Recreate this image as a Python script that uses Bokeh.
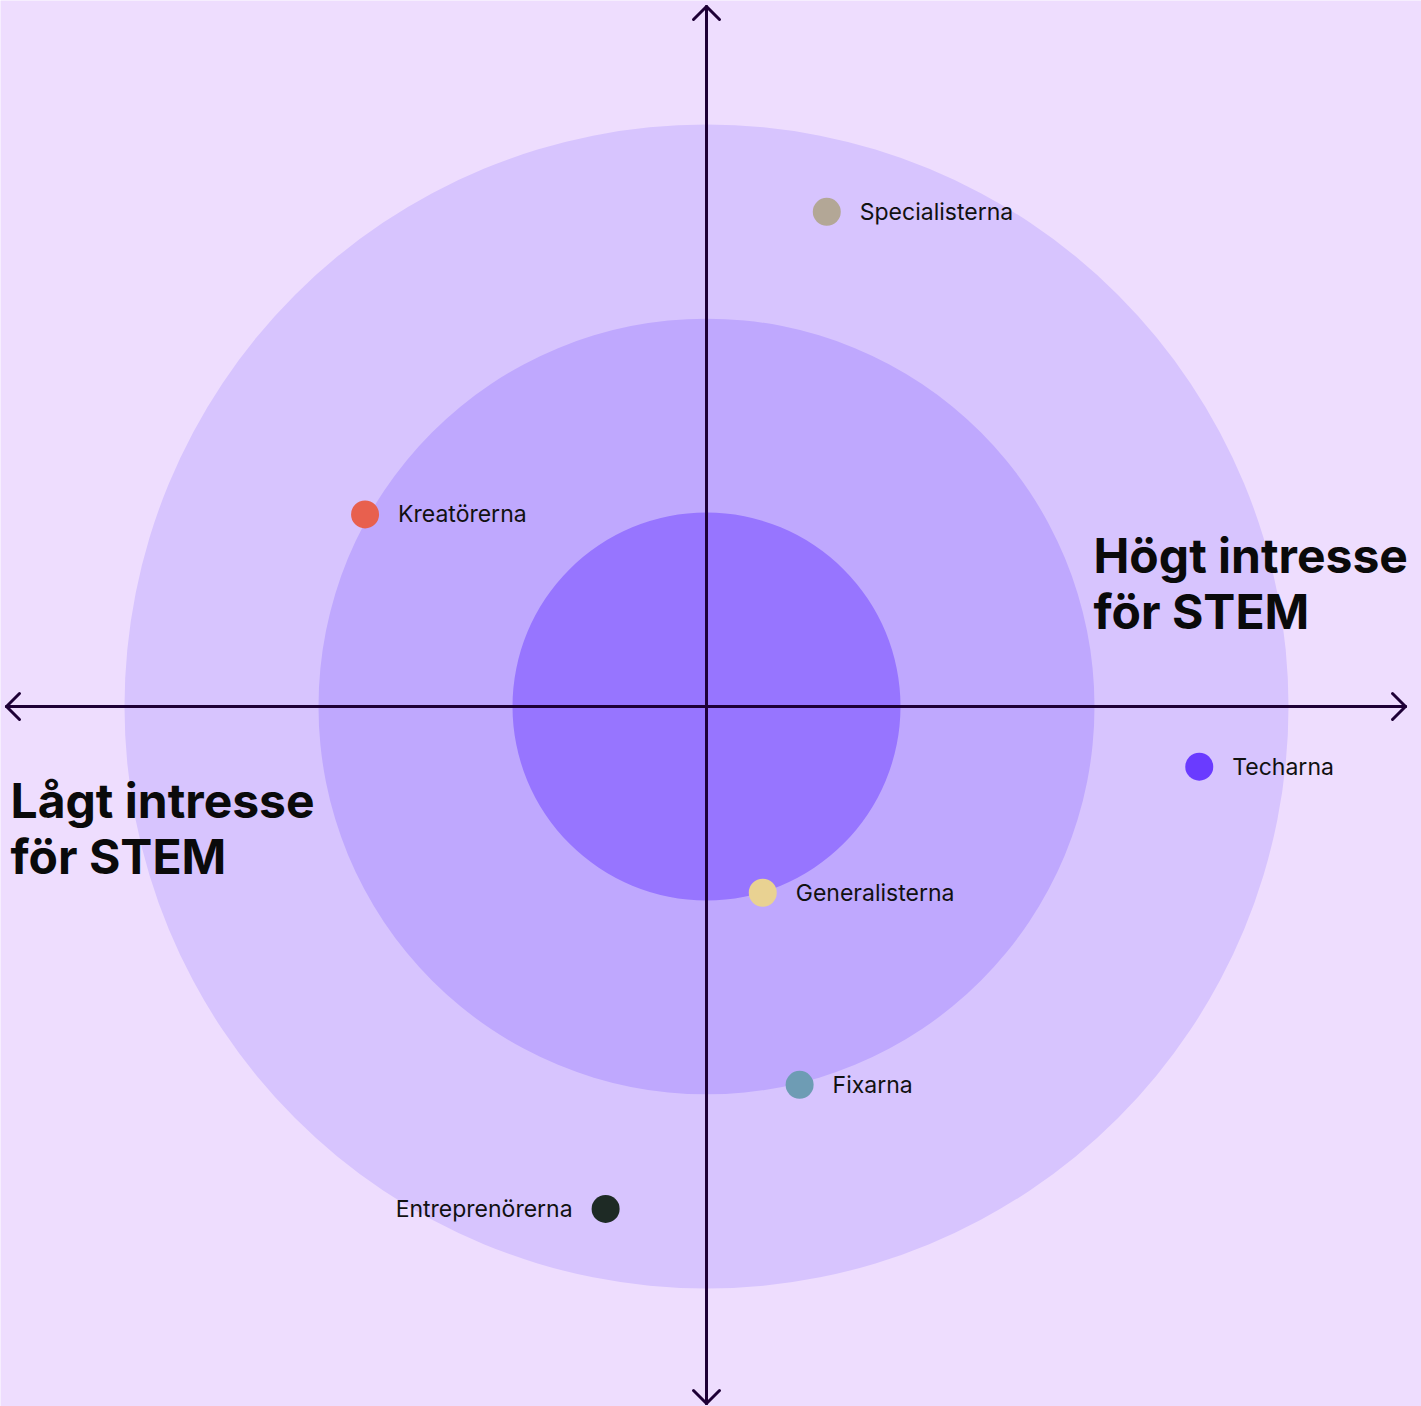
from bokeh.plotting import figure
from bokeh.models import ColumnDataSource
from bokeh.core.properties import value
from bokeh.embed import file_html
from bokeh.resources import INLINE

# ---- data ----
ring_radii = [3, 2, 1]
ring_colors = ["#D7C4FE", "#BFA8FE", "#9775FF"]

names = ["Specialisterna", "Kreatörerna", "Techarna", "Generalisterna", "Fixarna", "Entreprenörerna"]
x_vals = [0.62, -1.76, 2.54, 0.29, 0.48, -0.52]
y_vals = [2.55, 0.99, -0.31, -0.96, -1.95, -2.59]
dot_colors = ["#B3A796", "#E8604E", "#6A3BFF", "#E9D292", "#6E9CB4", "#1E2A25"]
label_side = ["right", "right", "right", "right", "right", "left"]

quad_labels = [("Högt intresse", "för STEM"), ("Lågt intresse", "för STEM")]

BG = "#EEDDFE"
AX = "#1E0036"
PX = 194.0  # pixels per unit

W, H = 1421, 1406
p = figure(width=W, height=H, output_backend="svg", toolbar_location=None,
           x_range=(-706 / PX, 715 / PX), y_range=(-700 / PX, 706 / PX),
           min_border=0, background_fill_color=BG, border_fill_color=BG)
p.axis.visible = False
p.grid.visible = False
p.outline_line_color = None

for r, c in zip(ring_radii, ring_colors):
    p.circle(x=[0], y=[0], radius=r, fill_color=c, line_color=None)

# axes with arrow heads
xl, xr = -700 / PX, 699 / PX
yb, yt = -697 / PX, 700 / PX
a = 13 / PX
sx0 = [xl, 0, xl, xl, xr, xr, 0, 0, 0, 0]
sy0 = [0, yb, 0, 0, 0, 0, yt, yt, yb, yb]
sx1 = [xr, 0, xl + a, xl + a, xr - a, xr - a, -a, a, -a, a]
sy1 = [0, yt, a, -a, a, -a, yt - a, yt - a, yb + a, yb + a]
p.segment(x0=sx0, y0=sy0, x1=sx1, y1=sy1, line_color=AX, line_width=3, line_cap="round")

src = ColumnDataSource(dict(x=x_vals, y=y_vals, c=dot_colors, n=names))
p.scatter("x", "y", source=src, size=28, fill_color="c", line_color=None)

off = 33 / PX
rx = [x + off for x, s in zip(x_vals, label_side) if s == "right"]
ry = [y for y, s in zip(y_vals, label_side) if s == "right"]
rn = [n for n, s in zip(names, label_side) if s == "right"]
lx = [x - off for x, s in zip(x_vals, label_side) if s == "left"]
ly = [y for y, s in zip(y_vals, label_side) if s == "left"]
ln = [n for n, s in zip(names, label_side) if s == "left"]
common = dict(text_font=value("Inter"), text_font_size="23px", text_color="#111111",
              text_baseline="middle")
p.text(x=rx, y=ry, text=rn, text_align="left", **common)
p.text(x=lx, y=ly, text=ln, text_align="right", **common)

big = dict(text_font=value("Inter"), text_font_size="48px", text_font_style="bold",
           text_color="#0A0A0A", text_baseline="alphabetic", text_align="left")
p.text(x=[387 / PX, 387 / PX], y=[151 / PX, 95 / PX], text=list(quad_labels[0]), **big)
p.text(x=[-696 / PX, -696 / PX], y=[-94 / PX, -150 / PX], text=list(quad_labels[1]), **big)

open("out.html", "w").write(file_html(p, INLINE))
